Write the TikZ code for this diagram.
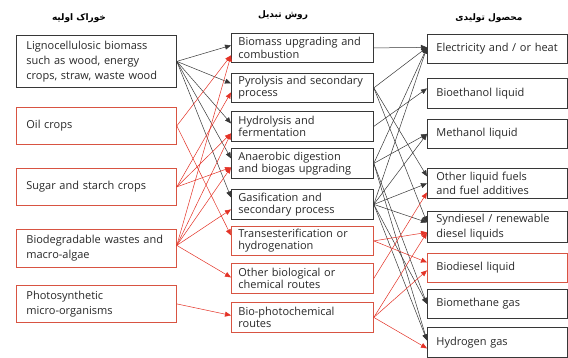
\documentclass[tikz,border=0pt]{standalone}
\usepackage{fontspec}
\setmainfont{Open Sans}
\newfontfamily\farsi[Script=Arabic]{DejaVu Sans}
\TeXXeTstate=1
\usetikzlibrary{arrows.meta}
\definecolor{redc}{RGB}{228,50,38}
\definecolor{redbox}{RGB}{216,84,66}
\definecolor{darkc}{RGB}{55,55,55}
\definecolor{textc}{RGB}{40,40,40}
\begin{document}
\begin{tikzpicture}[x=1pt,y=-1pt,
  box/.style={draw=darkc, line width=0.8pt, anchor=north west, align=left, inner ysep=0pt, text=textc},
  lbox/.style={box, inner xsep=10pt, text width=140pt, minimum height=#1, font=\fontsize{11}{15}\selectfont},
  mbox/.style={box, inner xsep=7pt, text width=128pt, minimum height=#1, font=\fontsize{11}{12.4}\selectfont},
  rbox/.style={box, inner xsep=9pt, text width=122pt, minimum height=#1, font=\fontsize{11}{14.5}\selectfont},
  redb/.style={draw=redbox},
  bl/.style={draw=darkc, line width=0.5pt, -{Triangle[length=6pt,width=5pt]}},
  rl/.style={draw=redc, line width=0.5pt, -{Triangle[length=6pt,width=5pt]}},
  hdr/.style={font=\farsi\fontsize{9}{11}\selectfont\bfseries}]
\useasboundingbox[fill=white] (0,0) rectangle (568,358);
% headers
\node[hdr] (h1) at (79,18) {\beginR خوراک اولیه\endR};
\node[hdr] (h2) at (283,15) {\beginR روش تبدیل\endR};
\node[hdr] (h3) at (489,18) {\beginR محصول تولیدی\endR};
% left column
\node[lbox=52pt] (L1) at (16,35) {\mbox{Lignocellulosic biomass}\\\mbox{such as wood, energy}\\\mbox{crops, straw, waste wood}};
\node[lbox=37pt, redb] (L2) at (16,107) {Oil crops};
\node[lbox=37pt, redb] (L3) at (16,168) {\mbox{Sugar and starch crops}};
\node[lbox=38pt, redb] (L4) at (16,229) {\mbox{Biodegradable wastes and}\\macro-algae};
\node[lbox=37pt, redb] (L5) at (16,285) {Photosynthetic\\micro-organisms};
% middle column
\node[mbox=29pt] (M1) at (231,33) {\mbox{Biomass upgrading and}\\combustion};
\node[mbox=29pt] (M2) at (231,73) {\mbox{Pyrolysis and secondary}\\process};
\node[mbox=30pt] (M3) at (231,111) {Hydrolysis and\\fermentation};
\node[mbox=30pt] (M4) at (231,148) {\mbox{Anaerobic digestion}\\\mbox{and biogas upgrading}};
\node[mbox=30pt] (M5) at (231,189) {Gasification and\\\mbox{secondary process}};
\node[mbox=29pt, redb] (M6) at (231,226) {\mbox{Transesterification or}\\hydrogenation};
\node[mbox=30pt, redb] (M7) at (231,263) {\mbox{Other biological or}\\\mbox{chemical routes}};
\node[mbox=30pt, redb] (M8) at (231,302) {Bio-photochemical\\routes};
% right column
\node[rbox=29pt] (R1) at (427,34) {\mbox{Electricity and / or heat}};
\node[rbox=30pt] (R2) at (427,78) {Bioethanol liquid};
\node[rbox=29pt] (R3) at (427,119) {Methanol liquid};
\node[rbox=30pt] (R4) at (427,168) {Other liquid fuels\\\mbox{and fuel additives}};
\node[rbox=31pt] (R5) at (427,211) {\mbox{Syndiesel / renewable}\\diesel liquids};
\node[rbox=29pt, redb] (R6) at (427,253) {Biodiesel liquid};
\node[rbox=29pt] (R7) at (427,289) {Biomethane gas};
\node[rbox=30pt] (R8) at (427,327) {Hydrogen gas};
% left connectors, black
\draw[bl] (L1.east) -- ([yshift=2.5pt]M1.west);
\draw[bl] (L1.east) -- ([yshift=4.5pt]M2.west);
\draw[bl] (L1.east) -- ([yshift=3pt]M3.west);
\draw[bl] (L1.east) -- ([yshift=5pt]M4.west);
\draw[bl] (L1.east) -- ([yshift=7pt]M5.west);
% left connectors, red
\draw[rl] (L2.east) -- ([yshift=-7.5pt]M1.west);
\draw[rl] (L2.east) -- ([yshift=5.5pt]M6.west);
\draw[rl] (L3.east) -- ([yshift=-4.5pt]M2.west);
\draw[rl] (L3.east) -- ([yshift=-7pt]M3.west);
\draw[rl] (L3.east) -- ([yshift=-4pt]M4.west);
\draw[rl] ([yshift=3pt]L4.east) -- ([yshift=-7.5pt]M1.west);
\draw[rl] ([yshift=3pt]L4.east) -- ([yshift=-7pt]M3.west);
\draw[rl] ([yshift=3pt]L4.east) -- ([yshift=-4pt]M4.west);
\draw[rl] ([yshift=3pt]L4.east) -- ([yshift=-5pt]M5.west);
\draw[rl] ([yshift=3pt]L4.east) -- ([yshift=1pt]M7.west);
\draw[rl] (L5.east) -- ([yshift=2pt]M8.west);
% right connectors, black
\draw[bl] (M1.east) -- ([yshift=1.5pt]R1.west);
\draw[bl] (M2.east) -- ([yshift=1.5pt]R1.west);
\draw[bl] (M2.east) -- ([yshift=7pt]R4.west);
\draw[bl] (M2.east) -- ([yshift=4.5pt]R5.west);
\draw[bl] (M3.east) -- ([yshift=5pt]R2.west);
\draw[bl] (M4.east) -- ([yshift=1.5pt]R1.west);
\draw[bl] (M4.east) -- (R3.west);
\draw[bl] (M4.east) -- (R7.west);
\draw[bl] (M4.east) -- ([yshift=2pt]R8.west);
\draw[bl] (M5.east) -- ([yshift=1.5pt]R1.west);
\draw[bl] (M5.east) -- (R3.west);
\draw[bl] (M5.east) -- (R4.west);
\draw[bl] (M5.east) -- ([yshift=4.5pt]R5.west);
\draw[bl] (M5.east) -- (R7.west);
\draw[bl] (M5.east) -- ([yshift=2pt]R8.west);
% right connectors, red
\draw[rl] (M6.east) -- ([yshift=-5.5pt]R5.west);
\draw[rl] (M6.east) -- ([yshift=5.5pt]R6.west);
\draw[rl] (M7.east) -- ([yshift=-9pt]R4.west);
\draw[rl] (M8.east) -- ([yshift=-5.5pt]R5.west);
\draw[rl] (M8.east) -- ([yshift=-2.5pt]R6.west);
\draw[rl] (M8.east) -- ([yshift=-6pt]R8.west);
\end{tikzpicture}
\end{document}
